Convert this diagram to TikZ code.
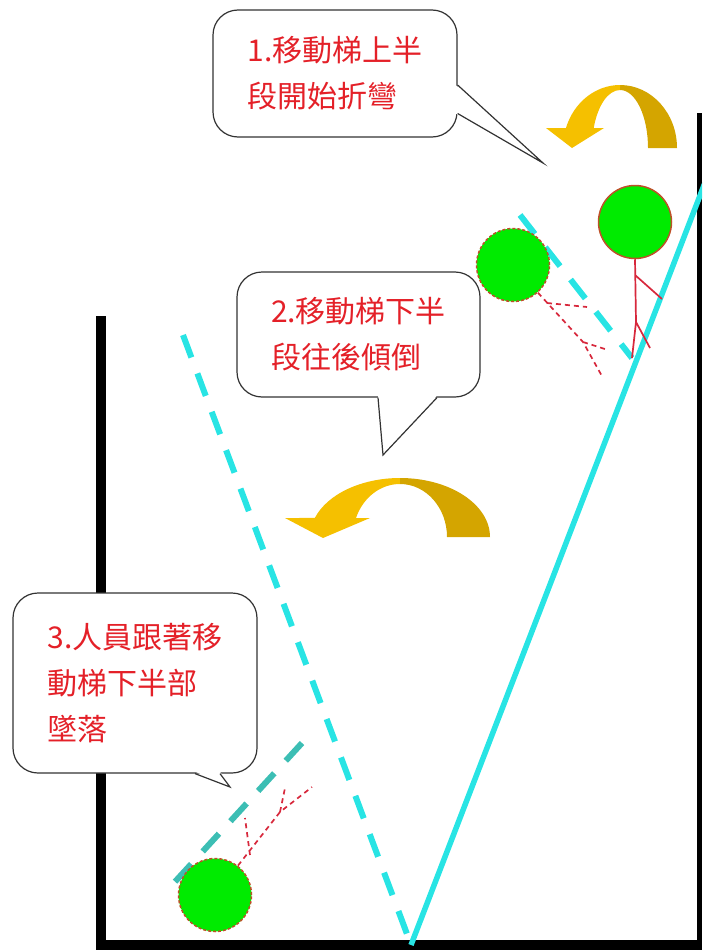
\documentclass[tikz,border=0pt]{standalone}
\usepackage{fontspec}
\newfontfamily\cjk{Noto Sans CJK TC}
\usetikzlibrary{positioning}
\definecolor{ladder}{RGB}{40,228,228}
\definecolor{ladderdark}{RGB}{60,190,180}
\definecolor{headgreen}{RGB}{0,235,0}
\definecolor{headline}{RGB}{190,80,40}
\definecolor{body}{RGB}{215,40,60}
\definecolor{goldlight}{RGB}{245,192,0}
\definecolor{golddark}{RGB}{212,165,0}
\definecolor{note}{RGB}{228,32,40}
\tikzset{
	wall/.style={line width=10pt},
	bubble/.style={draw=black!80,fill=white,line width=1.2pt,rounded corners=25pt,inner sep=0pt,align=left,text=note,font=\cjk\fontsize{30}{46}\selectfont},
	tail/.style={draw=black!80,line width=1.2pt},
	head/.style={circle,draw=headline,fill=headgreen,line width=1.5pt,minimum size=73pt,inner sep=0pt},
	ghost/.style={head,dash pattern=on 3pt off 2pt},
	limb/.style={draw=body,line width=1.7pt},
	ghostlimb/.style={limb,dash pattern=on 5pt off 4pt},
	rail/.style={draw=ladder,line width=5.5pt},
	dashrail/.style={rail,line width=6pt,dash pattern=on 24pt off 17pt}
}

\begin{document}
\begin{tikzpicture}[x=1pt,y=-1pt]
	\useasboundingbox (0,0) rectangle (702,950);
	\clip (0,0) rectangle (702,950);
	% room
	\draw[wall] (101,316) -- (101,945) -- (702,945);
	\draw[line width=5pt] (699.5,113) -- (699.5,945);
	% ladder: standing part, upper half bending, lower half falling back
	\draw[rail] (411,945) -- (706,180);
	\draw[dashrail] (520,215) -- (632,358);
	\draw[dashrail] (183,335) -- (410,942);
	\draw[dashrail,draw=ladderdark] (302,743) -- (172,885);
	% bending arrows
	\fill[golddark] (620,85) arc[start angle=-90,end angle=0,x radius=57,y radius=63] -- (648,148) arc[start angle=0,end angle=-90,x radius=28,y radius=58] -- cycle;
	\fill[goldlight] (620,85) arc[start angle=-90,end angle=-161.5,x radius=57,y radius=63] -- (546,128) -- (572,148) -- (604,128) -- (593.7,128) arc[start angle=-159.8,end angle=-90,x radius=28,y radius=58] -- cycle;
	\fill[golddark] (400,478) arc[start angle=-90,end angle=0,x radius=90,y radius=59] -- (447,537) arc[start angle=0,end angle=-90,x radius=47,y radius=53] -- cycle;
	\fill[goldlight] (400,478) arc[start angle=-90,end angle=-161.2,x radius=90,y radius=59] -- (285,518) -- (323,538) -- (370,518) -- (356,518) arc[start angle=-159,end angle=-90,x radius=47,y radius=53] -- cycle;
	% worker on the ladder, then falling
	\node[head] (h1) at (635,222) {};
	\draw[limb] (h1.south) -- (636,322) -- (632,358) (636,322) -- (650,348) (635,275) -- (662,299);
	\node[ghost] (h2) at (513,265) {};
	\draw[ghostlimb] (h2.-48) -- (583,342) -- (603,378) (583,342) -- (608,350) (547,303) -- (587,307);
	\node[ghost] (h3) at (215,895) {};
	\draw[ghostlimb] (h3.52) -- (280,812) -- (312,787) (280,812) -- (285,788) (250,855) -- (245,818);
	% notes
	\node[bubble,minimum width=244,minimum height=127] (b1) at (335,73.5) {1.移動梯上半\\段開始折彎};
	\coordinate (t1) at (543,163);
	\fill[white] ([xshift=-2pt,yshift=-11.5pt]b1.east) -- (t1) -- ([xshift=-2pt,yshift=-40pt]b1.east) -- cycle;
	\draw[tail] ([yshift=-11.5pt]b1.east) -- (t1) -- ([yshift=-40pt]b1.east);
	\node[bubble,minimum width=243,minimum height=125] (b2) at (358.5,334.5) {2.移動梯下半\\段往後傾倒};
	\coordinate (t2) at (383,455);
	\fill[white] ([xshift=19.5pt,yshift=2pt]b2.south) -- (t2) -- ([xshift=78.5pt,yshift=2pt]b2.south) -- cycle;
	\draw[tail] ([xshift=19.5pt]b2.south) -- (t2) -- ([xshift=78.5pt]b2.south);
	\node[bubble,minimum width=244,minimum height=180] (b3) at (135,683) {3.人員跟著移\\動梯下半部\\墜落};
	\coordinate (t3) at (230,787);
	\fill[white] ([xshift=60pt,yshift=2pt]b3.south) -- (t3) -- ([xshift=85pt,yshift=2pt]b3.south) -- cycle;
	\draw[tail] ([xshift=60pt]b3.south) -- (t3) -- ([xshift=85pt]b3.south);
\end{tikzpicture}
\end{document}
